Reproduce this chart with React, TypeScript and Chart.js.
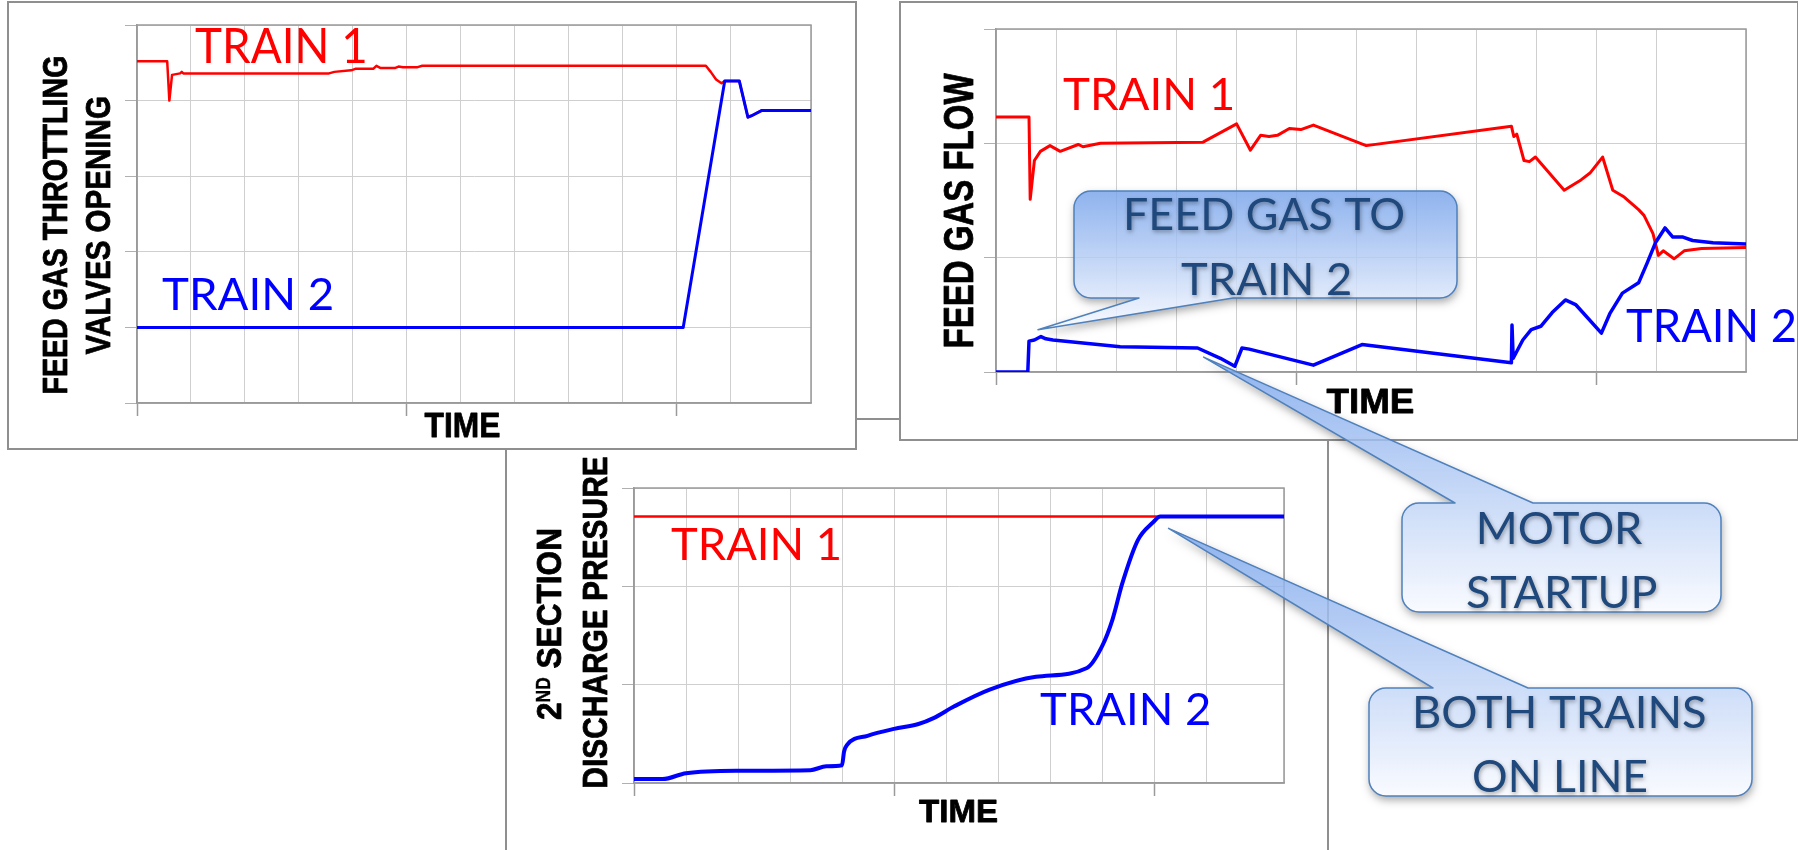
import React, { useEffect, useRef } from "react";
import { Chart, registerables } from "chart.js";

Chart.register(...registerables);

// ---------------- data ----------------
const timeMax = 12.5;

// Panel 1: feed gas throttling valves opening
const valveTrain1Time = [0, 0.56, 0.6, 0.65, 0.8, 0.83, 0.86, 3.56, 3.66, 3.97, 4.05, 4.38, 4.44, 4.52, 4.78, 4.85, 4.93, 5.19, 5.29, 10.55, 10.64, 10.74, 10.84, 10.9, 11.17, 11.33, 11.4, 11.59, 12.5];
const valveTrain1Open = [4.52, 4.52, 4.0, 4.34, 4.36, 4.38, 4.36, 4.36, 4.38, 4.4, 4.42, 4.42, 4.46, 4.43, 4.43, 4.45, 4.44, 4.44, 4.46, 4.46, 4.38, 4.28, 4.23, 4.26, 4.26, 3.78, 3.8, 3.87, 3.87];
const valveTrain2Time = [0, 10.13, 10.9, 11.17, 11.33, 11.4, 11.59, 12.5];
const valveTrain2Open = [1, 1, 4.26, 4.26, 3.78, 3.8, 3.87, 3.87];

// Panel 2: feed gas flow
const flowTrain1Time = [0, 0.55, 0.57, 0.64, 0.74, 0.9, 1.07, 1.37, 1.45, 1.74, 3.45, 4.01, 4.24, 4.41, 4.55, 4.69, 4.89, 5.08, 5.29, 6.17, 8.59, 8.63, 8.68, 8.8, 8.89, 8.99, 9.47, 9.75, 9.9, 10.11, 10.28, 10.47, 10.71, 10.8, 10.95, 11.04, 11.12, 11.3, 11.47, 11.76, 12.5];
const flowTrain1Value = [2.23, 2.23, 1.51, 1.85, 1.93, 1.98, 1.93, 1.99, 1.97, 2.0, 2.01, 2.17, 1.94, 2.07, 2.06, 2.07, 2.13, 2.12, 2.16, 1.98, 2.15, 2.06, 2.08, 1.85, 1.84, 1.88, 1.59, 1.68, 1.74, 1.88, 1.59, 1.53, 1.42, 1.37, 1.21, 1.02, 1.06, 0.99, 1.06, 1.08, 1.09];
const flowTrain2Time = [0, 0.53, 0.55, 0.64, 0.75, 0.83, 0.95, 2.07, 3.36, 3.74, 3.98, 4.1, 4.22, 5.29, 6.1, 8.59, 8.6, 8.62, 8.78, 8.92, 9.08, 9.27, 9.49, 9.66, 10.09, 10.23, 10.44, 10.71, 10.85, 10.99, 11.15, 11.28, 11.45, 11.61, 11.95, 12.5];
const flowTrain2Value = [0, 0, 0.27, 0.28, 0.31, 0.29, 0.28, 0.22, 0.21, 0.12, 0.05, 0.21, 0.2, 0.06, 0.24, 0.08, 0.41, 0.12, 0.28, 0.37, 0.4, 0.52, 0.63, 0.59, 0.34, 0.51, 0.69, 0.78, 0.95, 1.13, 1.26, 1.18, 1.18, 1.15, 1.13, 1.12];

// Panel 3: 2nd section discharge pressure
const pressTrain1Time = [0, 12.5];
const pressTrain1Value = [2.71, 2.71];
const pressTrain2Time = [0, 0.55, 1.0, 2.0, 3.39, 3.7, 4.0, 4.04, 4.1, 4.49, 5.0, 5.47, 5.76, 6.16, 6.84, 7.73, 8.71, 9.0, 9.2, 9.39, 9.69, 9.98, 10.12, 12.5];
const pressTrain2Value = [0.04, 0.04, 0.1, 0.125, 0.13, 0.17, 0.18, 0.32, 0.39, 0.48, 0.55, 0.6, 0.66, 0.78, 0.95, 1.08, 1.17, 1.39, 1.66, 2.03, 2.47, 2.65, 2.71, 2.71];

// Texts
const seriesNames = ["TRAIN 1", "TRAIN 2"];
const valveAxisTitle = ["FEED GAS THROTTLING", "VALVES OPENING"];
const flowAxisTitle = ["FEED GAS FLOW"];
const pressAxisTitle = ["2", "ND", " SECTION", "DISCHARGE PRESURE"];
const timeTitle = "TIME";
const feedCalloutText = ["FEED GAS TO", "TRAIN 2"];
const motorCalloutText = ["MOTOR", "STARTUP"];
const bothCalloutText = ["BOTH TRAINS", "ON LINE"];

// ---------------- styling ----------------
const RED = "#ff0000";
const BLUE = "#0000ff";
const GRID = "#cfcfcf";
const AXIS = "#9a9a9a";
const BOLD_FONT = '"Liberation Sans", Arial, sans-serif';
const LABEL_FONT = 'Lato, "Open Sans", sans-serif';
const PAGE_W = 1798;
const PAGE_H = 850;

const pts = (xs: number[], ys: number[]) => xs.map((x, i) => ({ x, y: ys[i] }));

function capRatio(ctx: CanvasRenderingContext2D, family: string, weight: string) {
  ctx.save();
  ctx.font = `${weight} 100px ${family}`;
  const m = ctx.measureText("H");
  ctx.restore();
  return (m.actualBoundingBoxAscent || 72) / 100;
}

function drawFitted(ctx: CanvasRenderingContext2D, text: string, px: number, py: number, o: any) {
  const size = o.cap / capRatio(ctx, o.family, o.weight);
  ctx.save();
  ctx.font = `${o.weight} ${size}px ${o.family}`;
  ctx.textAlign = "left";
  ctx.textBaseline = "alphabetic";
  const m = ctx.measureText(text);
  const l = m.actualBoundingBoxLeft;
  const r = m.actualBoundingBoxRight;
  const s = o.width / (l + r);
  if (o.shadow) {
    ctx.shadowColor = o.shadow;
    ctx.shadowBlur = 4;
    ctx.shadowOffsetY = 2;
    ctx.shadowOffsetX = 1;
  }
  ctx.translate(px, py);
  if (o.rotate) ctx.rotate(-Math.PI / 2);
  ctx.scale(s, 1);
  const d = o.align === "center" ? -(r - l) / 2 : l;
  ctx.fillStyle = o.color;
  ctx.fillText(text, d, 0);
  if (o.heavy) {
    ctx.shadowColor = "rgba(0,0,0,0)";
    ctx.strokeStyle = o.color;
    ctx.lineWidth = o.heavy;
    ctx.lineJoin = "round";
    ctx.strokeText(text, d, 0);
  }
  ctx.restore();
}

function drawRichRotated(ctx: CanvasRenderingContext2D, parts: any[], bx: number, cy: number, cap: number, len: number) {
  const size = cap / capRatio(ctx, BOLD_FONT, "bold");
  const supScale = 0.55;
  ctx.save();
  ctx.textAlign = "left";
  ctx.textBaseline = "alphabetic";
  const widths = parts.map((p) => {
    ctx.font = `bold ${size * (p.sup ? supScale : 1)}px ${BOLD_FONT}`;
    return ctx.measureText(p.t).width;
  });
  const total = widths.reduce((a, b) => a + b, 0);
  ctx.translate(bx, cy);
  ctx.rotate(-Math.PI / 2);
  ctx.scale(len / total, 1);
  ctx.fillStyle = "#000";
  ctx.strokeStyle = "#000";
  ctx.lineJoin = "round";
  let x = -total / 2;
  parts.forEach((p, i) => {
    ctx.font = `bold ${size * (p.sup ? supScale : 1)}px ${BOLD_FONT}`;
    const yy = p.sup ? -cap * (1 - supScale) : 0;
    ctx.fillText(p.t, x, yy);
    ctx.lineWidth = p.sup ? 0.4 : 0.8;
    ctx.strokeText(p.t, x, yy);
    x += widths[i];
  });
  ctx.restore();
}

function panelPlugin(spec: any) {
  return {
    id: "panelTexts",
    beforeDatasetsDraw(chart: any) {
      const { left, top, right, bottom } = chart.chartArea;
      const ctx = chart.ctx;
      ctx.save();
      ctx.strokeStyle = AXIS;
      ctx.lineWidth = 1.5;
      ctx.strokeRect(left, top, right - left, bottom - top);
      ctx.restore();
    },
    afterDraw(chart: any) {
      const ctx = chart.ctx as CanvasRenderingContext2D;
      const xs = chart.scales.x;
      const ys = chart.scales.y;
      spec.labels.forEach((l: any) => {
        drawFitted(ctx, l.text, xs.getPixelForValue(l.x), ys.getPixelForValue(l.y), {
          cap: l.cap, width: l.width, family: LABEL_FONT, weight: "400", color: l.color, align: "left",
        });
      });
      spec.yTitles.forEach((t: any) => {
        if (t.parts) drawRichRotated(ctx, t.parts, t.bx, t.cy, t.cap, t.len);
        else drawFitted(ctx, t.text, t.bx, t.cy, { cap: t.cap, width: t.len, family: BOLD_FONT, weight: "bold", color: "#000", align: "center", rotate: true, heavy: 0.8 });
      });
      const xt = spec.xTitle;
      drawFitted(ctx, timeTitle, xt.cx, xt.by, { cap: xt.cap, width: xt.width, family: BOLD_FONT, weight: "bold", color: "#000", align: "center", heavy: 0.8 });
    },
  };
}

function buildChart(canvas: HTMLCanvasElement, spec: any) {
  const W = canvas.width;
  const H = canvas.height;
  const area = spec.area;
  return new Chart(canvas, {
    type: "line",
    data: { datasets: spec.datasets },
    options: {
      animation: false,
      responsive: false,
      devicePixelRatio: 1,
      events: [],
      layout: { autoPadding: false, padding: { left: 0, top: area.top, right: W - area.right, bottom: 0 } },
      plugins: { legend: { display: false }, tooltip: { enabled: false }, title: { display: false } },
      elements: { point: { radius: 0 }, line: { tension: 0 } },
      scales: {
        x: {
          type: "linear",
          min: 0,
          max: timeMax,
          ticks: { display: false, stepSize: 1 },
          grid: {
            color: GRID,
            lineWidth: 1,
            drawTicks: true,
            tickLength: 13,
            tickWidth: 1.5,
            tickColor: (c: any) => (c.tick && c.tick.value % 5 === 0 ? AXIS : "rgba(0,0,0,0)"),
          },
          border: { display: true, color: AXIS, width: 1.5 },
          afterFit: (s: any) => { s.height = H - area.bottom; },
        },
        y: {
          type: "linear",
          min: 0,
          max: spec.yMax,
          ticks: { display: false, stepSize: 1 },
          grid: { color: GRID, lineWidth: 1, drawTicks: true, tickLength: 12, tickColor: "#b0b0b0" },
          border: { display: true, color: AXIS, width: 1.5 },
          afterFit: (s: any) => { s.width = area.left; },
        },
      },
    } as any,
    plugins: [panelPlugin(spec)],
  });
}

function lineSet(label: string, data: any[], color: string, width: number, order: number, smooth = false) {
  return {
    label,
    data,
    borderColor: color,
    backgroundColor: color,
    borderWidth: width,
    pointRadius: 0,
    fill: false,
    order,
    cubicInterpolationMode: smooth ? "monotone" : "default",
    borderJoinStyle: "round",
    borderCapStyle: "round",
  };
}

function calloutPath(box: number[], r: number, tail: string, base: number[], tip: number[]) {
  const [L, T, R, B] = box;
  const p = new Path2D();
  p.moveTo(L + r, T);
  if (tail === "top") {
    p.lineTo(base[0], T);
    p.lineTo(tip[0], tip[1]);
    p.lineTo(base[1], T);
  }
  p.lineTo(R - r, T);
  p.arcTo(R, T, R, T + r, r);
  p.lineTo(R, B - r);
  p.arcTo(R, B, R - r, B, r);
  if (tail === "bottom") {
    p.lineTo(base[1], B);
    p.lineTo(tip[0], tip[1]);
    p.lineTo(base[0], B);
  }
  p.lineTo(L + r, B);
  p.arcTo(L, B, L, B - r, r);
  p.lineTo(L, T + r);
  p.arcTo(L, T, L + r, T, r);
  p.closePath();
  return p;
}

const callouts = [
  { lines: feedCalloutText, box: [1074, 191, 1457, 298], tail: "bottom", base: [1139, 1233], chart: "flow", at: [0.7, 0.37], baselines: [230, 295], widths: [277, 169], cap: 33 },
  { lines: motorCalloutText, box: [1402, 503, 1721, 612], tail: "top", base: [1455, 1533], chart: "flow", at: [3.46, 0.13], baselines: [544, 608], widths: [163, 189], cap: 32 },
  { lines: bothCalloutText, box: [1369, 688, 1752, 796], tail: "top", base: [1433, 1528], chart: "press", at: [10.28, 2.59], baselines: [728, 792], widths: [289, 173], cap: 33 },
];

const panelStyle = (left: number, top: number, w: number, h: number): React.CSSProperties => ({
  position: "absolute",
  left,
  top,
  width: w,
  height: h,
  border: "2px solid #8f8f8f",
  background: "#ffffff",
});

export default function App() {
  const rootRef = useRef<HTMLDivElement>(null);
  const valveRef = useRef<HTMLCanvasElement>(null);
  const flowRef = useRef<HTMLCanvasElement>(null);
  const pressRef = useRef<HTMLCanvasElement>(null);
  const overlayRef = useRef<HTMLCanvasElement>(null);

  useEffect(() => {
    const press = buildChart(pressRef.current!, {
      yMax: 3,
      area: { left: 127, top: 68, right: 777, bottom: 363 },
      datasets: [
        lineSet(seriesNames[1], pts(pressTrain2Time, pressTrain2Value), BLUE, 4, 0, true),
        lineSet(seriesNames[0], pts(pressTrain1Time, pressTrain1Value), RED, 2.5, 1),
      ],
      labels: [
        { text: seriesNames[0], x: 0.71, y: 2.27, cap: 33, width: 168, color: RED },
        { text: seriesNames[1], x: 7.81, y: 0.59, cap: 33, width: 169, color: BLUE },
      ],
      yTitles: [
        { parts: [{ t: pressAxisTitle[0] }, { t: pressAxisTitle[1], sup: true }, { t: pressAxisTitle[2] }], bx: 54, cy: 204, cap: 25, len: 192 },
        { text: pressAxisTitle[3], bx: 100, cy: 202, cap: 25, len: 330 },
      ],
      xTitle: { cx: 451, by: 402, cap: 22, width: 78 },
    });
    const valve = buildChart(valveRef.current!, {
      yMax: 5,
      area: { left: 128, top: 22, right: 802, bottom: 400 },
      datasets: [
        lineSet(seriesNames[1], pts(valveTrain2Time, valveTrain2Open), BLUE, 3, 0),
        lineSet(seriesNames[0], pts(valveTrain1Time, valveTrain1Open), RED, 2.5, 1),
      ],
      labels: [
        { text: seriesNames[0], x: 1.076, y: 4.497, cap: 35, width: 170, color: RED },
        { text: seriesNames[1], x: 0.464, y: 1.23, cap: 33, width: 170, color: BLUE },
      ],
      yTitles: [
        { text: valveAxisTitle[0], bx: 58, cy: 222, cap: 25, len: 336 },
        { text: valveAxisTitle[1], bx: 101, cy: 223, cap: 24, len: 257 },
      ],
      xTitle: { cx: 453, by: 434, cap: 24, width: 75 },
    });
    const flow = buildChart(flowRef.current!, {
      yMax: 3,
      area: { left: 95, top: 26, right: 845, bottom: 369 },
      datasets: [
        lineSet(seriesNames[1], pts(flowTrain2Time, flowTrain2Value), BLUE, 3.5, 0),
        lineSet(seriesNames[0], pts(flowTrain1Time, flowTrain1Value), RED, 3, 1),
      ],
      labels: [
        { text: seriesNames[0], x: 1.117, y: 2.29, cap: 33, width: 169, color: RED },
        { text: seriesNames[1], x: 10.5, y: 0.262, cap: 34, width: 169, color: BLUE },
      ],
      yTitles: [{ text: flowAxisTitle[0], bx: 72, cy: 207, cap: 30, len: 274 }],
      xTitle: { cx: 469, by: 410, cap: 25, width: 87 },
    });
    const charts: any = { press, valve, flow };
    let alive = true;

    const paintOverlay = () => {
      const canvas = overlayRef.current;
      const root = rootRef.current;
      if (!canvas || !root) return;
      const ctx = canvas.getContext("2d")!;
      ctx.clearRect(0, 0, PAGE_W, PAGE_H);
      const rootBox = root.getBoundingClientRect();
      callouts.forEach((c) => {
        const ch = charts[c.chart];
        const cb = ch.canvas.getBoundingClientRect();
        const tip = [
          cb.left - rootBox.left + ch.scales.x.getPixelForValue(c.at[0]),
          cb.top - rootBox.top + ch.scales.y.getPixelForValue(c.at[1]),
        ];
        const path = calloutPath(c.box, 17, c.tail, c.base, tip);
        // outer shadow only
        ctx.save();
        const clip = new Path2D();
        clip.rect(-20, -20, PAGE_W + 40, PAGE_H + 40);
        clip.addPath(path);
        ctx.clip(clip, "evenodd");
        ctx.shadowColor = "rgba(0,0,0,0.35)";
        ctx.shadowBlur = 8;
        ctx.shadowOffsetY = 4;
        ctx.shadowOffsetX = 1;
        ctx.fillStyle = "#000";
        ctx.fill(path);
        ctx.restore();
        // gradient fill
        const y0 = Math.min(c.box[1], tip[1]);
        const y1 = Math.max(c.box[3], tip[1]);
        const g = ctx.createLinearGradient(0, y0, 0, y1);
        g.addColorStop(0, "rgba(118,162,234,0.82)");
        g.addColorStop(1, "rgba(248,250,255,0.85)");
        ctx.fillStyle = g;
        ctx.fill(path);
        ctx.strokeStyle = "#4f81bd";
        ctx.lineWidth = 1.5;
        ctx.lineJoin = "round";
        ctx.stroke(path);
        const cx = (c.box[0] + c.box[2]) / 2;
        c.lines.forEach((t, i) => {
          drawFitted(ctx, t, cx, c.baselines[i], {
            cap: c.cap, width: c.widths[i], family: LABEL_FONT, weight: "400", color: "#1f497d", align: "center", shadow: "rgba(0,0,0,0.35)",
          });
        });
      });
    };
    paintOverlay();
    const fonts = (document as any).fonts;
    if (fonts && fonts.ready) {
      fonts.ready.then(() => {
        if (!alive) return;
        press.draw();
        valve.draw();
        flow.draw();
        paintOverlay();
      });
    }
    return () => {
      alive = false;
      press.destroy();
      valve.destroy();
      flow.destroy();
    };
  }, []);

  return (
    <div
      ref={rootRef}
      style={{ position: "absolute", left: 0, top: 0, width: PAGE_W, height: PAGE_H, overflow: "hidden", background: "#ffffff" }}
    >
      <div style={panelStyle(505, 418, 820, 446)}>
        <canvas ref={pressRef} width={820} height={446} style={{ display: "block" }} />
      </div>
      <div style={panelStyle(7, 1, 846, 445)}>
        <canvas ref={valveRef} width={846} height={445} style={{ display: "block" }} />
      </div>
      <div style={panelStyle(899, 1, 896, 436)}>
        <canvas ref={flowRef} width={896} height={436} style={{ display: "block" }} />
      </div>
      <canvas
        ref={overlayRef}
        width={PAGE_W}
        height={PAGE_H}
        style={{ position: "absolute", left: 0, top: 0, pointerEvents: "none", display: "block" }}
      />
    </div>
  );
}
